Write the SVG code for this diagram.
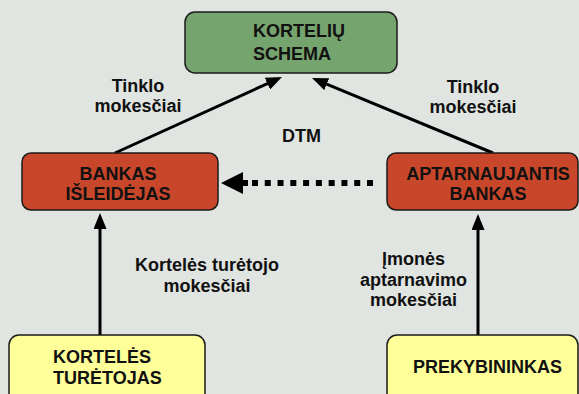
<svg xmlns="http://www.w3.org/2000/svg" width="579" height="394" viewBox="0 0 579 394">
<defs>
<style>
.t{font-family:"Liberation Sans",Arial,sans-serif;font-weight:bold;font-size:18px;fill:#111;}
.c{text-anchor:middle;}
.box{stroke:#1a1a1a;stroke-width:1.5;}
.green{fill:#76A46E;}
.red{fill:#C8472A;}
.yellow{fill:#FFFF99;}
.ln{stroke:#000;stroke-width:3;fill:none;}
</style>
<marker id="ah" markerUnits="userSpaceOnUse" markerWidth="17" markerHeight="13" refX="8" refY="6.5" orient="auto">
<path d="M0,0 L16,6.5 L0,13 z" fill="#000"/>
</marker>
</defs>
<rect width="579" height="394" fill="#E1E5E1"/>

<g id="connectors">
<line class="ln" x1="115" y1="153" x2="274.7" y2="80.3" marker-end="url(#ah)"/>
<line class="ln" x1="493" y1="153" x2="319.4" y2="81.1" marker-end="url(#ah)"/>
<line class="ln" x1="100" y1="337" x2="100" y2="221" marker-end="url(#ah)"/>
<line class="ln" x1="478" y1="337" x2="478" y2="222" marker-end="url(#ah)"/>
<line x1="373" y1="183" x2="252" y2="183" stroke="#000" stroke-width="6" stroke-dasharray="6 6.78"/>
<polygon points="221,183 243,172 243,180 248,180 248,186 243,186 243,194" fill="#000"/>
</g>

<g id="labels">
<text class="t c" x="138" y="92">Tinklo</text>
<text class="t c" x="138" y="112">mokesčiai</text>
<text class="t c" x="473" y="93">Tinklo</text>
<text class="t c" x="473" y="113">mokesčiai</text>
<text class="t c" x="301.5" y="142">DTM</text>
<text class="t c" x="207" y="271">Kortelės turėtojo</text>
<text class="t c" x="207" y="292">mokesčiai</text>
<text class="t c" x="413.5" y="265">Įmonės</text>
<text class="t c" x="413.5" y="285.5">aptarnavimo</text>
<text class="t c" x="413.5" y="306">mokesčiai</text>
</g>

<g id="korteliu-schema">
<rect class="box green" x="185" y="12" width="212" height="61" rx="10"/>
<text class="t" x="253" y="37">KORTELIŲ</text>
<text class="t" x="253" y="60">SCHEMA</text>
</g>

<g id="bankas-isleidejas">
<rect class="box red" x="22" y="153" width="196" height="57" rx="9"/>
<text class="t c" x="118" y="179.5">BANKAS</text>
<text class="t c" x="118" y="200">IŠLEIDĖJAS</text>
</g>

<g id="aptarnaujantis-bankas">
<rect class="box red" x="387" y="153" width="191" height="57" rx="9"/>
<text class="t c" x="488" y="179.5">APTARNAUJANTIS</text>
<text class="t c" x="488" y="200">BANKAS</text>
</g>

<g id="korteles-turetojas">
<rect class="box yellow" x="9" y="335" width="196" height="70" rx="10"/>
<text class="t" x="53" y="362.5">KORTELĖS</text>
<text class="t" x="53" y="383.5">TURĖTOJAS</text>
</g>

<g id="prekybininkas">
<rect class="box yellow" x="387" y="335" width="191" height="70" rx="10"/>
<text class="t c" x="487.5" y="372.5">PREKYBININKAS</text>
</g>
</svg>
